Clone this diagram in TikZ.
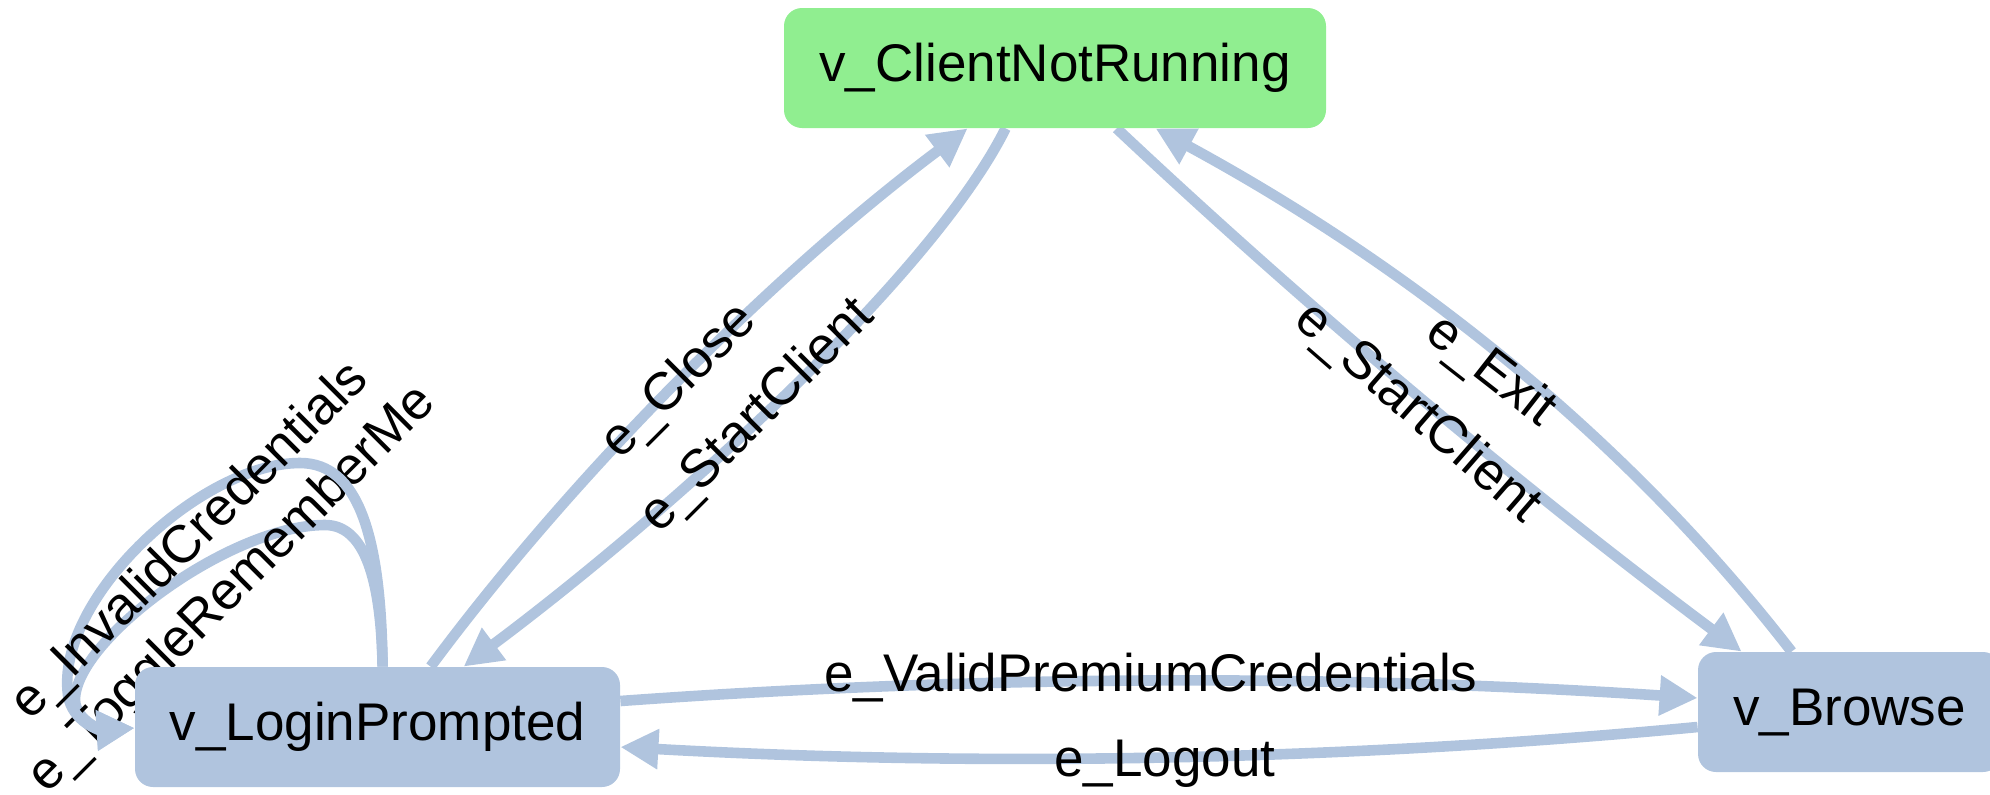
\documentclass[tikz,border=0pt]{standalone}
\usepackage{fontspec}
\setmainfont{Liberation Sans}
\usetikzlibrary{arrows.meta,calc}
\definecolor{steel}{HTML}{B0C4DE}
\definecolor{lgreen}{HTML}{90EE90}
\pgfdeclarelayer{fg}
\pgfsetlayers{main,fg}
\begin{document}
\begin{tikzpicture}[x=0.5pt,y=-0.5pt,
  vtx/.style={rectangle, rounded corners=9pt, fill=steel, minimum height=60pt,
    inner xsep=0pt, inner ysep=0pt, text height=19pt, text depth=5.6pt,
    font=\fontsize{26.5}{32}\selectfont, text=black},
  lbl/.style={inner sep=0pt, text height=19pt, text depth=5.6pt,
    font=\fontsize{26.5}{32}\selectfont, text=black},
  edge/.style={draw=steel, line width=5.3pt, -{Triangle[length=19pt,width=19pt]}},
  ]
\useasboundingbox (0,0) rectangle (1990,794);
\begin{pgfonlayer}{fg}
\node[vtx, fill=lgreen, minimum width=271pt] (CNR) at (1055,68) {v\_ClientNotRunning};
\node[vtx, minimum width=242.5pt] (LP) at (377.5,727) {v\_LoginPrompted};
\node[vtx, minimum width=151.5pt] (BR) at (1849.5,712) {v\_Browse};
\end{pgfonlayer}

% self loop e_ToggleRememberMe
\draw[edge] ($(LP.north west)+(248,0)$) .. controls (381,580) and (365,525) .. (325,525)
  .. controls (230,525) and (75,640) .. (75,700)
  .. controls (76,722) and (105,730) .. ($(LP.west)+(0,1)$);
\node[lbl, rotate=45] (lToggle) at (233,590) {e\_ToggleRememberMe};

% self loop e_InvalidCredentials
\draw[edge] ($(LP.north west)+(248,0)$) .. controls (381,540) and (360,463) .. (300,463)
  .. controls (200,463) and (55,600) .. (68,695)
  .. controls (72,722) and (100,730) .. ($(LP.west)+(0,1)$);
\node[lbl, rotate=45] (lInvalid) at (191,542) {e\_InvalidCredentials};

% e_Close
\draw[edge] ($(LP.north west)+(296,0)$) .. controls (565,485) and (765,280) .. ($(CNR.south west)+(184,0)$);
\node[lbl, rotate=45] (lClose) at (680,382) {e\_Close};

% e_StartClient CNR -> LP
\draw[edge] ($(CNR.south west)+(222,0)$) .. controls (930,280) and (660,520) .. ($(LP.north west)+(329,0)$);
\node[lbl, rotate=45] (lStart1) at (758,417) {e\_StartClient};

% e_StartClient CNR -> Browse
\draw[edge] ($(CNR.south west)+(333,0)$) .. controls (1315,315) and (1524,489) .. ($(BR.north west)+(44,0)$);
\node[lbl, rotate=-41] (lStart2) at (1417,414) {e\_StartClient};

% e_Exit Browse -> CNR
\draw[edge] ($(BR.north west)+(94,0)$) .. controls (1620,430) and (1402,262) .. ($(CNR.south west)+(372,0)$);
\node[lbl, rotate=-38] (lExit) at (1490,372) {e\_Exit};

% e_ValidPremiumCredentials
\draw[edge] ($(LP.east)+(0,-26)$) .. controls (979,675) and (1339,674) .. ($(BR.west)+(0,-14)$);
\node[lbl] (lValid) at (1151,678.5) {e\_ValidPremiumCredentials};

% e_Logout
\draw[edge] ($(BR.west)+(0,15)$) .. controls (1339,761) and (980,767) .. ($(LP.east)+(0,20)$);
\node[lbl] (lLogout) at (1165,763.5) {e\_Logout};
\end{tikzpicture}
\end{document}
